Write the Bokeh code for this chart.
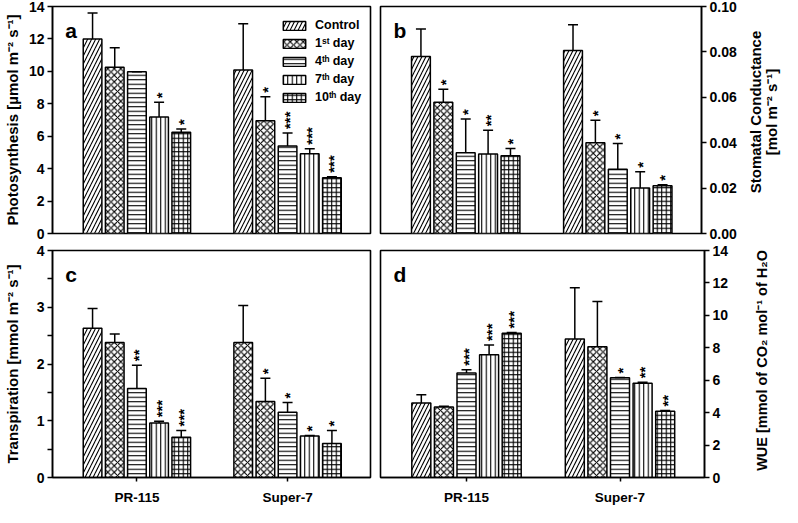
import math
from bokeh.plotting import figure
from bokeh.layouts import column, row
from bokeh.models import (ColumnDataSource, Range1d, FixedTicker, Whisker, TeeHead,
                          Legend, LegendItem, Label, PrintfTickFormatter)
from bokeh.core.properties import value
from bokeh.embed import file_html
from bokeh.resources import INLINE

# ---------------- data ----------------
cultivars = ["PR-115", "Super-7"]
treatments = ["Control", "1st day", "4th day", "7th day", "10th day"]
legend_labels = ["Control", "1\u02e2\u1d57 day", "4\u1d57\u02b0 day", "7\u1d57\u02b0 day", "10\u1d57\u02b0 day"]

# (a) Photosynthesis
photo_pr = [12.0, 10.25, 9.97, 7.19, 6.24]
photo_pr_err = [1.6, 1.2, 0.0, 0.91, 0.2]
photo_pr_sig = ["", "", "", "*", "*"]
photo_s7 = [10.09, 6.95, 5.39, 4.92, 3.44]
photo_s7_err = [2.84, 1.48, 0.81, 0.31, 0.06]
photo_s7_sig = ["", "*", "***", "***", "***"]

# (b) Stomatal conductance
gs_pr = [0.078, 0.0578, 0.0356, 0.0350, 0.0342]
gs_pr_err = [0.0121, 0.0057, 0.0148, 0.0105, 0.0033]
gs_pr_sig = ["", "*", "*", "**", "*"]
gs_s7 = [0.0806, 0.0400, 0.0283, 0.0200, 0.0210]
gs_s7_err = [0.0114, 0.0099, 0.0114, 0.0072, 0.0005]
gs_s7_sig = ["", "*", "*", "*", "*"]

# (c) Transpiration
tr_pr = [2.63, 2.38, 1.57, 0.96, 0.71]
tr_pr_err = [0.35, 0.15, 0.41, 0.03, 0.12]
tr_pr_sig = ["", "", "**", "***", "***"]
tr_s7 = [2.38, 1.34, 1.15, 0.73, 0.60]
tr_s7_err = [0.65, 0.41, 0.17, 0.01, 0.23]
tr_s7_sig = ["", "*", "*", "*", "*"]

# (d) WUE
wue_pr = [4.59, 4.35, 6.45, 7.57, 8.90]
wue_pr_err = [0.51, 0.04, 0.20, 0.60, 0.04]
wue_pr_sig = ["", "", "***", "***", "***"]
wue_s7 = [8.54, 8.07, 6.15, 5.81, 4.09]
wue_s7_err = [3.17, 2.79, 0.02, 0.06, 0.04]
wue_s7_sig = ["", "", "*", "**", "**"]

# ---------------- styles ----------------
FONT = "Liberation Sans"
patterns = ["right_diagonal_line", "diagonal_cross", "horizontal_line", "vertical_line", "cross"]
pattern_scales = [8, 6.5, 4.5, 4.5, 4.5]
BAR_STEP = 0.1472
BAR_W = 0.1238
X_START, X_END = 0.4397, 2.5505


def make_panel(letter, pr, pr_err, pr_sig, s7, s7_err, s7_sig, y_end, y_ticks,
               ylabel, side, bottom, width, height, borders, label_standoff=5,
               minor=None, fmt=None, pattern_override=None, legend=False):
    xs, tops, uppers, sigs, pats, scales = [], [], [], [], [], []
    for g, (vals, errs, sg) in enumerate([(pr, pr_err, pr_sig), (s7, s7_err, s7_sig)]):
        for i in range(len(treatments)):
            xs.append(g + 1 + (i - 2) * BAR_STEP)
            tops.append(vals[i])
            uppers.append(vals[i] + errs[i])
            sigs.append(sg[i])
            pats.append(patterns[i])
            scales.append(pattern_scales[i])
    if pattern_override:
        for idx, pi_ in pattern_override.items():
            pats[idx] = patterns[pi_]
            scales[idx] = pattern_scales[pi_]
    src = ColumnDataSource(dict(x=xs, top=tops, upper=uppers, sig=sigs, pat=pats, sc=scales))

    p = figure(width=width, height=height, output_backend="svg", toolbar_location=None,
               x_range=Range1d(X_START, X_END), y_range=Range1d(0, y_end),
               y_axis_location=side, min_border_left=borders[0], min_border_right=borders[1],
               min_border_top=borders[2], min_border_bottom=borders[3])
    p.grid.visible = False
    p.outline_line_color = "black"
    p.outline_line_width = 1.6
    p.outline_line_alpha = 1.0
    p.background_fill_color = "white"
    p.border_fill_color = "white"

    bars = p.vbar(x="x", top="top", bottom=0, width=BAR_W, source=src,
                  fill_color="white", line_color="black", line_width=1.5,
                  hatch_pattern="pat", hatch_scale="sc", hatch_weight=1.1,
                  hatch_color="black")

    wh = Whisker(source=src, base="x", lower="top", upper="upper",
                 line_color="black", line_width=1.5, level="overlay",
                 upper_head=TeeHead(size=10, line_color="black", line_width=1.5),
                 lower_head=None)
    p.add_layout(wh)

    p.text(x="x", y="upper", text="sig", source=src, angle=math.pi / 2,
           text_align="left", text_baseline="middle", x_offset=2, y_offset=-4,
           text_font=value(FONT), text_font_size="15px", text_font_style="bold",
           text_color="black")

    fh = height - borders[2] - borders[3]
    fw = width - borders[0] - borders[1]
    xspan = X_END - X_START

    ya = p.yaxis[0]
    ya.ticker = FixedTicker(ticks=y_ticks, minor_ticks=minor or [])
    if fmt:
        ya.formatter = PrintfTickFormatter(format=fmt)
    ya.axis_line_width = 1.5
    ya.major_tick_line_width = 1.5
    ya.minor_tick_line_width = 1.5
    ya.major_tick_out = 5
    ya.major_tick_in = 0
    ya.minor_tick_out = 5
    ya.minor_tick_in = 0
    ya.major_label_standoff = 3
    ya.major_label_text_font = FONT
    ya.major_label_text_font_size = "14px"
    ya.major_label_text_font_style = "bold"
    ya.major_label_text_color = "black"
    if ylabel:
        ya.axis_label = ylabel
        ya.axis_label_text_font = FONT
        ya.axis_label_text_font_size = "15px"
        ya.axis_label_text_font_style = "bold"
        ya.axis_label_text_color = "black"
        ya.axis_label_standoff = label_standoff

    xa = p.xaxis[0]
    if bottom:
        xa.ticker = FixedTicker(ticks=[1, 2])
        xa.major_label_overrides = {1: cultivars[0], 2: cultivars[1]}
        xa.axis_line_width = 1.5
        xa.major_tick_line_width = 1.5
        xa.major_tick_out = 4
        xa.major_tick_in = 0
        xa.minor_tick_line_color = None
        xa.major_label_standoff = 8
        xa.major_label_text_font = FONT
        xa.major_label_text_font_size = "13.5px"
        xa.major_label_text_font_style = "bold"
        xa.major_label_text_color = "black"
    else:
        xa.visible = False

    p.add_layout(Label(x=X_START + 13 / fw * xspan,
                       y=y_end - 24 / fh * y_end, text=letter,
                       text_font=FONT, text_font_size="21px", text_font_style="bold",
                       text_color="black", text_baseline="alphabetic"))

    if legend:
        items = [LegendItem(label=legend_labels[i], renderers=[bars], index=i)
                 for i in range(len(treatments))]
        lg = Legend(items=items, location=(228, 129), glyph_width=28, glyph_height=11,
                    label_text_font=FONT, label_text_font_size="12.5px",
                    label_text_font_style="bold", label_text_color="black",
                    label_standoff=7, label_height=14, spacing=4, padding=0, margin=0,
                    border_line_color=None, background_fill_alpha=0)
        p.add_layout(lg)
    return p


def side_title(lines, xs_px, width, height, y_center_px, size):
    """Narrow strip to the right of a panel holding its bottom-to-top axis title."""
    s = figure(width=width, height=height, output_backend="svg", toolbar_location=None,
               x_range=Range1d(0, width), y_range=Range1d(0, height),
               x_axis_location=None, y_axis_location=None,
               min_border_left=0, min_border_right=0, min_border_top=0, min_border_bottom=0)
    s.grid.visible = False
    s.outline_line_color = None
    s.background_fill_color = "white"
    s.border_fill_color = "white"
    for line, xp in zip(lines, xs_px):
        s.add_layout(Label(x=xp, y=y_center_px, text=line, angle=math.pi / 2,
                           text_align="center", text_baseline="middle",
                           text_font=FONT, text_font_size=size, text_font_style="bold",
                           text_color="black"))
    return s


TOP_H, BOT_H = 241, 266
LEFT_W, RIGHT_W, STRIP_W = 375, 364, 43

pa = make_panel("a", photo_pr, photo_pr_err, photo_pr_sig, photo_s7, photo_s7_err, photo_s7_sig,
                14, [0, 2, 4, 6, 8, 10, 12, 14],
                "Photosynthesis [\u00b5mol m\u207b\u00b2 s\u207b\u00b9]",
                "left", False, LEFT_W, TOP_H, (46, 5, 6, 8), 5, legend=True)
pb = make_panel("b", gs_pr, gs_pr_err, gs_pr_sig, gs_s7, gs_s7_err, gs_s7_sig,
                0.10, [0, 0.02, 0.04, 0.06, 0.08, 0.10], None,
                "right", False, RIGHT_W, TOP_H, (5, 35, 6, 8), fmt="%.2f")
pb_t = side_title(["Stomatal Conductance", "[mol m\u207b\u00b2 s\u207b\u00b9]"], [16, 32],
                  STRIP_W, TOP_H, 129, "15px")
pc = make_panel("c", tr_pr, tr_pr_err, tr_pr_sig, tr_s7, tr_s7_err, tr_s7_sig,
                4, [0, 1, 2, 3, 4], "Transpiration [mmol m\u207b\u00b2 s\u207b\u00b9]",
                "left", True, LEFT_W, BOT_H, (46, 5, 9, 27), 13,
                minor=[0.5, 1.5, 2.5, 3.5], pattern_override={5: 1})
pd_ = make_panel("d", wue_pr, wue_pr_err, wue_pr_sig, wue_s7, wue_s7_err, wue_s7_sig,
                 14, [0, 2, 4, 6, 8, 10, 12, 14], None,
                 "right", True, RIGHT_W, BOT_H, (5, 35, 9, 27))
pd_t = side_title(["WUE [mmol of CO\u2082 mol\u207b\u00b9 of H\u2082O]"], [22],
                  STRIP_W, BOT_H, 140, "14.5px")

layout = column(row(pa, pb, pb_t), row(pc, pd_, pd_t))
open("out.html", "w").write(file_html(layout, INLINE))
